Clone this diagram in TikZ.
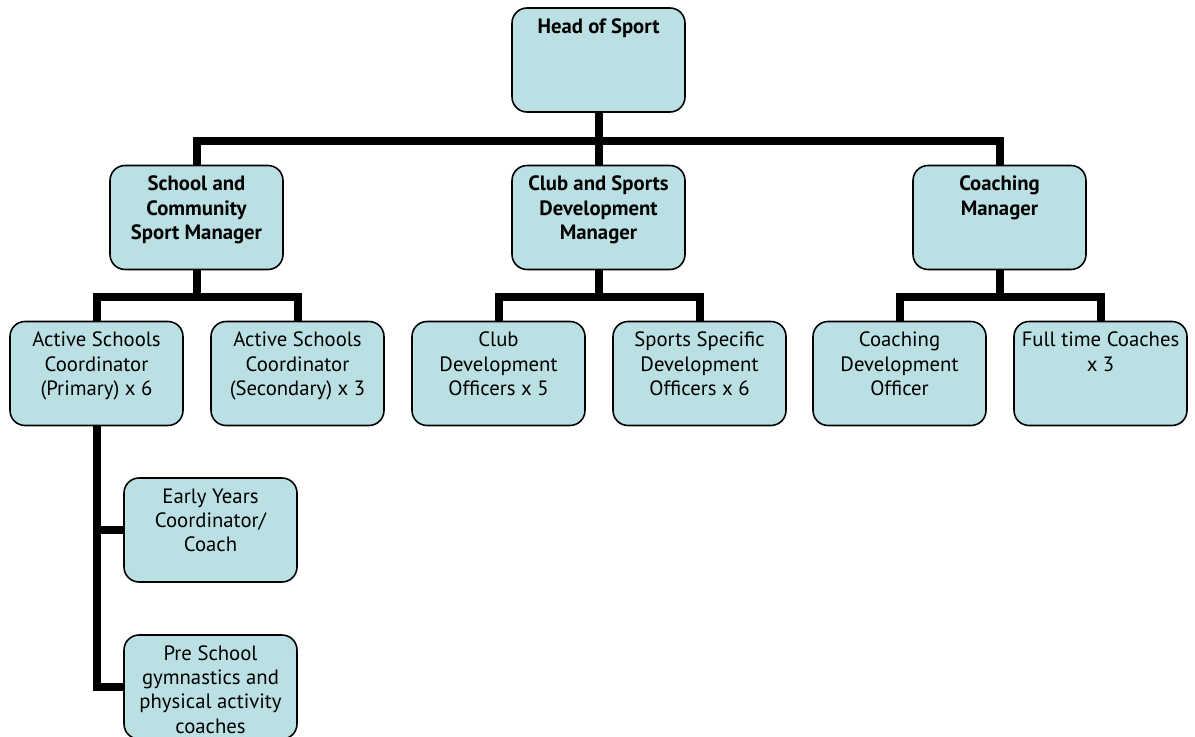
\documentclass[tikz,border=0pt]{standalone}
\usepackage{fontspec}
\setmainfont{PT Sans}
\usepackage{xcolor}
\usepackage{tikz}
\definecolor{postblue}{RGB}{186,224,227}
\newcommand{\posttext}[1]{\parbox[c][2.08cm][t]{3.36cm}{\vspace*{0.16cm}\centering\strut #1}}
\tikzset{
  post/.style={draw=black, line width=0.9pt, fill=postblue, rounded corners=0.3cm,
    minimum width=3.46cm, minimum height=2.08cm, inner sep=0pt,
    font=\fontsize{11.8}{13.9}\selectfont},
  link/.style={line width=0.16cm, black}
}

\begin{document}
\begin{tikzpicture}[x=0.02cm,y=-0.02cm]
                \useasboundingbox (0,0) rectangle (1195,736);

                \node[post] (head) at (598.5,60) {\posttext{\textbf{Head of Sport}}};

                \node[post] (school) at (196.5,217.5) {\posttext{\textbf{School and\\Community\\Sport Manager}}};
                \node[post] (club) at (598.5,217.5) {\posttext{\textbf{Club and Sports\\Development\\Manager}}};
                \node[post] (coach) at (999.5,217.5) {\posttext{\textbf{Coaching\\Manager}}};

                \node[post] (primary) at (96.5,373.5) {\posttext{Active Schools\\Coordinator\\(Primary) x 6}};
                \node[post] (secondary) at (297.5,373.5) {\posttext{Active Schools\\Coordinator\\(Secondary) x 3}};
                \node[post] (clubdev) at (498.5,373.5) {\posttext{Club\\Development\\Officers x 5}};
                \node[post] (sportdev) at (699.5,373.5) {\posttext{Sports Specific\\Development\\Officers x 6}};
                \node[post] (coachdev) at (899.5,373.5) {\posttext{Coaching\\Development\\Officer}};
                \node[post] (fulltime) at (1100.5,373.5) {\posttext{Full time Coaches\\x 3}};

                \node[post] (early) at (210.5,530) {\posttext{Early Years\\Coordinator/\\Coach}};
                \node[post] (pre) at (210.5,687) {\posttext{Pre School\\gymnastics and\\physical activity\\coaches}};

                % links
                \foreach \n in {school,club,coach}
                  \draw[link] (head.south) -- ++(0,28) -| (\n.north);
                \foreach \n in {primary,secondary}
                  \draw[link] (school.south) -- ++(0,27) -| (\n.north);
                \foreach \n in {clubdev,sportdev}
                  \draw[link] (club.south) -- ++(0,27) -| (\n.north);
                \foreach \n in {coachdev,fulltime}
                  \draw[link] (coach.south) -- ++(0,27) -| (\n.north);
                \draw[link] (primary.south) |- (early.west);
                \draw[link] (primary.south) |- (pre.west);
\end{tikzpicture}
\end{document}
